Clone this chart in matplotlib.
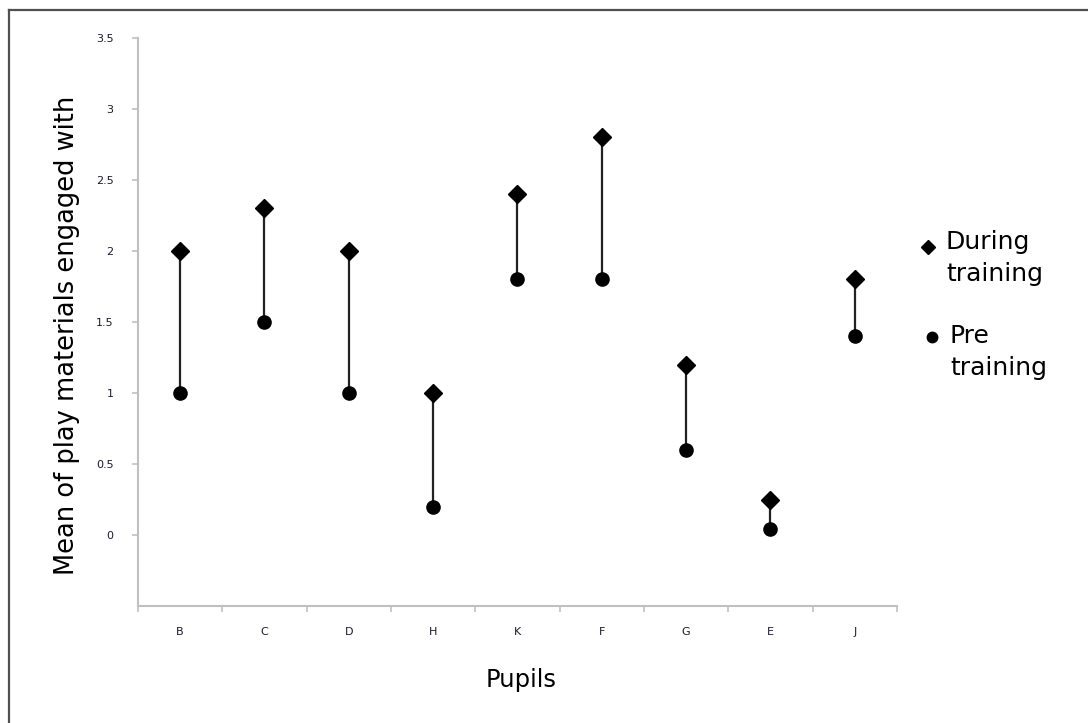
import numpy as np
import matplotlib
matplotlib.use('Agg')
import matplotlib.pyplot as plt
from matplotlib.lines import Line2D

# Data
pupils = ['B', 'C', 'D', 'H', 'K', 'F', 'G', 'E', 'J']
during = [2.0, 2.3, 2.0, 1.0, 2.4, 2.8, 1.2, 0.25, 1.8]
pre = [1.0, 1.5, 1.0, 0.2, 1.8, 1.8, 0.6, 0.04, 1.4]

ylabel = 'Mean of play materials engaged with'
xlabel = 'Pupils'
label_during = 'During\ntraining'
label_pre = 'Pre\ntraining'

################################################################

plt.rcParams['font.family'] = ['DejaVu Sans']

fig = plt.figure(figsize=(10.88, 7.23), dpi=100)
ax = fig.add_axes([0.1268, 0.1618, 0.8244 - 0.1268, 0.9474 - 0.1618])

x = np.arange(len(pupils))

# lines between pre and during
for xi, d, p in zip(x, during, pre):
    ax.plot([xi, xi], [p, d], color='#222222', lw=1.6, zorder=1)

ax.plot(x, during, 'D', color='black', ms=9, ls='none', zorder=2)
ax.plot(x, pre, 'o', color='black', ms=9.5, ls='none', zorder=2)

ax.set_xlim(-0.5, len(pupils) - 0.5)
ax.set_ylim(-0.5, 3.5)

ax.set_yticks(np.arange(0, 3.51, 0.5))
ax.set_yticklabels(['0', '0.5', '1', '1.5', '2', '2.5', '3', '3.5'])
ax.set_xticks(x)
ax.set_xticklabels(pupils)
ax.set_xticks(np.arange(-0.5, len(pupils), 1), minor=True)

for s in ['top', 'right']:
    ax.spines[s].set_visible(False)
for s in ['left', 'bottom']:
    ax.spines[s].set_color('#c0c0c0')
    ax.spines[s].set_linewidth(1.5)

ax.tick_params(axis='y', direction='out', length=4, width=1.2, color='#c0c0c0',
               labelsize=8, labelcolor='#1a1a2a', pad=13.5)
ax.tick_params(axis='x', which='major', length=0, labelsize=8,
               labelcolor='#1a1a2a', pad=15)
ax.tick_params(axis='x', which='minor', direction='out', length=4, width=1.2,
               color='#c0c0c0')

ax.set_ylabel(ylabel, fontsize=18.5)
ax.yaxis.set_label_coords(-0.076, 0.477)
ax.set_xlabel(xlabel, fontsize=17.5)
ax.xaxis.set_label_coords(0.505, -0.13)
ax.xaxis.label.set_va('center')

# legend drawn by hand so the marker sits beside the first line
fig.add_artist(Line2D([928 / 1088], [1 - 247 / 723], marker='D', ms=7,
                      color='black', ls='none'))
fig.text(946 / 1088, 1 - 230 / 723, label_during, fontsize=18, va='top',
         ha='left', linespacing=1.4)
fig.add_artist(Line2D([932 / 1088], [1 - 337 / 723], marker='o', ms=7.5,
                      color='black', ls='none'))
fig.text(950 / 1088, 1 - 324 / 723, label_pre, fontsize=18, va='top',
         ha='left', linespacing=1.4)

# frame at top and left of the picture
fig.add_artist(Line2D([8.5 / 1088, 1], [1 - 10 / 723, 1 - 10 / 723],
                      color='#505050', lw=1.6))
fig.add_artist(Line2D([8.5 / 1088, 8.5 / 1088], [0, 1 - 10 / 723],
                      color='#505050', lw=1.6))

plt.savefig('out.png', dpi=100)
